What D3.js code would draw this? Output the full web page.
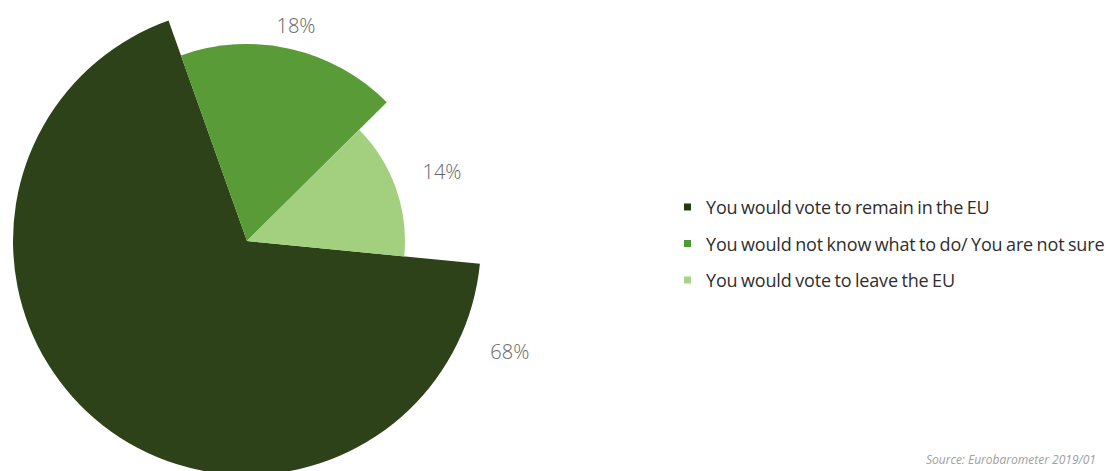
<!DOCTYPE html>
<html>
<head>
<meta charset="utf-8">
<script src="https://cdn.jsdelivr.net/npm/d3@7/dist/d3.min.js"></script>
<style>
  html, body { margin: 0; padding: 0; background: #ffffff; }
  svg { display: block; }
</style>
</head>
<body>
<svg id="chart" width="1119" height="471"></svg>
<script>
// Survey answers and their shares (%)
const categories = [
  "You would vote to remain in the EU",
  "You would not know what to do/ You are not sure",
  "You would vote to leave the EU"
];
const shares = [68, 18, 14];
const valueLabels = ["68%", "18%", "14%"];
const sourceNote = "Source: Eurobarometer 2019/01";

// Styling
const sliceColors = ["#2d4219", "#589b37", "#a2d07f"];
const swatchColors = ["#213a12", "#4f9a33", "#a6d588"];
const outerRadii = [234, 197, 158];       // each slice has its own radius
const labelGap = [51, 24, 49];            // distance of the label beyond the slice edge
const labelAlong = [0.07, 0.5, 0.5];      // label position along the slice's sweep
const center = { x: 247, y: 241 };
const startDeg = 95.6;

const svg = d3.select("#chart");

const pie = d3.pie()
  .sort(null)
  .value(d => d)
  .startAngle(startDeg * Math.PI / 180)
  .endAngle(startDeg * Math.PI / 180 + 2 * Math.PI);

const arcs = pie(shares);

const g = svg.append("g").attr("transform", `translate(${center.x},${center.y})`);

g.selectAll("path.slice")
  .data(arcs)
  .join("path")
  .attr("class", "slice")
  .attr("fill", (d, i) => sliceColors[i])
  .attr("d", (d, i) => d3.arc().innerRadius(0).outerRadius(outerRadii[i])(d));

// Percentage labels placed outside each slice
g.selectAll("text.value")
  .data(arcs)
  .join("text")
  .attr("class", "value")
  .each(function (d, i) {
    const a = d.startAngle + (d.endAngle - d.startAngle) * labelAlong[i];
    const r = outerRadii[i] + labelGap[i];
    d3.select(this)
      .attr("x", Math.sin(a) * r)
      .attr("y", -Math.cos(a) * r);
  })
  .attr("text-anchor", "middle")
  .attr("dominant-baseline", "central")
  .attr("font-family", "'Open Sans', sans-serif")
  .attr("font-weight", 300)
  .attr("font-size", 20)
  .attr("fill", "#666666")
  .text((d, i) => valueLabels[i]);

// Legend
const legendRow = d3.scalePoint()
  .domain(categories)
  .range([207, 280]);

const legend = svg.append("g");
const rows = legend.selectAll("g")
  .data(categories)
  .join("g")
  .attr("transform", d => `translate(684,${legendRow(d)})`);

rows.append("rect")
  .attr("x", 0)
  .attr("y", -3.5)
  .attr("width", 7)
  .attr("height", 7)
  .attr("fill", (d, i) => swatchColors[i]);

rows.append("text")
  .attr("x", 22)
  .attr("y", 0)
  .attr("dominant-baseline", "central")
  .attr("font-family", "'Open Sans', sans-serif")
  .attr("font-size", 18)
  .attr("letter-spacing", -0.15)
  .attr("word-spacing", -1)
  .attr("fill", "#2e2e2e")
  .text(d => d);

// Source note
svg.append("text")
  .attr("x", 926)
  .attr("y", 464)
  .attr("font-family", "'Open Sans', sans-serif")
  .attr("font-style", "italic")
  .attr("font-size", 12)
  .attr("fill", "#a0a0a0")
  .text(sourceNote);
</script>
</body>
</html>
